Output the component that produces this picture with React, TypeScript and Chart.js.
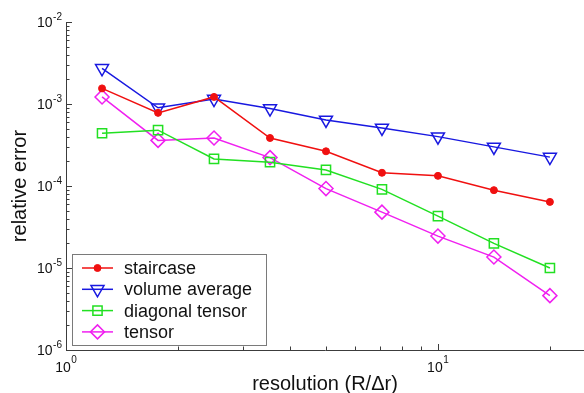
import React, { useEffect, useRef } from 'react';
import { Chart, registerables } from 'chart.js';

Chart.register(...registerables);

// ---- data ----
const resolution = [1.25, 1.768, 2.5, 3.536, 5, 7.071, 10, 14.14, 20];
const staircase = [1.55e-3, 7.8e-4, 1.22e-3, 3.85e-4, 2.65e-4, 1.45e-4, 1.33e-4, 8.9e-5, 6.4e-5];
const volumeAverage = [2.72e-3, 9.0e-4, 1.15e-3, 8.8e-4, 6.4e-4, 5.1e-4, 4.0e-4, 3.0e-4, 2.25e-4];
const diagonalTensor = [4.4e-4, 4.8e-4, 2.14e-4, 1.95e-4, 1.57e-4, 9.1e-5, 4.3e-5, 2.0e-5, 1.0e-5];
const tensor = [1.22e-3, 3.6e-4, 3.85e-4, 2.22e-4, 9.3e-5, 4.8e-5, 2.45e-5, 1.36e-5, 4.6e-6];
const seriesLabels = ['staircase', 'volume average', 'diagonal tensor', 'tensor'];
const xDecades = [1, 10];
const yDecades = [1e-6, 1e-5, 1e-4, 1e-3, 1e-2];
const xTickExponents = ['0', '1'];
const yTickExponents = ['-6', '-5', '-4', '-3', '-2'];
const xTitle = 'resolution (R/\u0394r)';
const yTitle = 'relative error';

const X_MIN = 1;
const X_MAX = 24.7;
const Y_MIN = 1e-6;
const Y_MAX = 1e-2;

const FONT = '"Liberation Sans", Arial, Helvetica, sans-serif';
const AXIS_COLOR = '#3c3c3c';
const TEXT_COLOR = '#111111';

function isDecade(v: number): boolean {
  const l = Math.log10(v);
  return Math.abs(l - Math.round(l)) < 1e-6;
}

function minorTicks(min: number, max: number): number[] {
  const out: number[] = [];
  const d0 = Math.floor(Math.log10(min));
  const d1 = Math.ceil(Math.log10(max));
  for (let d = d0; d <= d1; d++) {
    for (let m = 1; m <= 9; m++) {
      const v = m * Math.pow(10, d);
      if (v >= min * 0.999 && v <= max * 1.001) out.push(v);
    }
  }
  return out;
}

function drawMarker(ctx: CanvasRenderingContext2D, style: string, r: number, rotation: number,
  x: number, y: number, fill: string, stroke: string, lw: number) {
  ctx.save();
  ctx.beginPath();
  let rad = (rotation * Math.PI) / 180;
  if (style === 'circle') {
    ctx.arc(x, y, r, 0, Math.PI * 2);
  } else if (style === 'triangle') {
    ctx.moveTo(x + Math.sin(rad) * r, y - Math.cos(rad) * r);
    rad += (2 * Math.PI) / 3;
    ctx.lineTo(x + Math.sin(rad) * r, y - Math.cos(rad) * r);
    rad += (2 * Math.PI) / 3;
    ctx.lineTo(x + Math.sin(rad) * r, y - Math.cos(rad) * r);
    ctx.closePath();
  } else if (style === 'rect') {
    const s = Math.SQRT1_2 * r;
    ctx.rect(x - s, y - s, 2 * s, 2 * s);
  } else if (style === 'rectRot') {
    ctx.moveTo(x - r, y);
    ctx.lineTo(x, y - r);
    ctx.lineTo(x + r, y);
    ctx.lineTo(x, y + r);
    ctx.closePath();
  }
  ctx.fillStyle = fill;
  ctx.fill();
  ctx.lineWidth = lw;
  ctx.strokeStyle = stroke;
  ctx.stroke();
  ctx.restore();
}

const inwardTicks = {
  id: 'inwardTicks',
  afterDraw(chart: any) {
    const { ctx, chartArea, scales } = chart;
    const xs = scales.x;
    const ys = scales.y;
    ctx.save();
    ctx.strokeStyle = AXIS_COLOR;
    ctx.lineWidth = 1;
    ctx.beginPath();
    for (const v of minorTicks(X_MIN, X_MAX)) {
      const px = Math.round(xs.getPixelForValue(v)) + 0.5;
      const len = isDecade(v) ? 6 : 3.5;
      ctx.moveTo(px, chartArea.bottom);
      ctx.lineTo(px, chartArea.bottom - len);
    }
    for (const v of minorTicks(Y_MIN, Y_MAX)) {
      const py = Math.round(ys.getPixelForValue(v)) + 0.5;
      const len = isDecade(v) ? 6 : 3.5;
      ctx.moveTo(chartArea.left, py);
      ctx.lineTo(chartArea.left + len, py);
    }
    ctx.stroke();
    ctx.restore();
  },
};

// power-of-ten tick labels: "10" with a raised exponent
const powerLabels = {
  id: 'powerLabels',
  afterDraw(chart: any) {
    const { ctx, chartArea, scales } = chart;
    const base = `14px ${FONT}`;
    const sup = `10px ${FONT}`;
    ctx.save();
    ctx.fillStyle = TEXT_COLOR;
    ctx.textBaseline = 'alphabetic';
    ctx.textAlign = 'left';
    // y axis
    yDecades.forEach((v, i) => {
      const py = scales.y.getPixelForValue(v);
      const e = yTickExponents[i];
      ctx.font = sup;
      const ew = ctx.measureText(e).width;
      ctx.font = base;
      const bw = ctx.measureText('10').width;
      const right = chartArea.left - 4;
      const bx = right - ew - bw - 0.5;
      ctx.fillText('10', bx, py + 5);
      ctx.font = sup;
      ctx.fillText(e, bx + bw + 0.5, py - 2.5);
    });
    // x axis
    xDecades.forEach((v, i) => {
      const px = scales.x.getPixelForValue(v);
      const e = xTickExponents[i];
      ctx.font = sup;
      const ew = ctx.measureText(e).width;
      ctx.font = base;
      const bw = ctx.measureText('10').width;
      const bx = px - (bw + ew + 0.5) / 2;
      const baseY = chartArea.bottom + 22;
      ctx.fillText('10', bx, baseY);
      ctx.font = sup;
      ctx.fillText(e, bx + bw + 0.5, baseY - 9);
    });
    ctx.restore();
  },
};

const boxLegend = {
  id: 'boxLegend',
  afterDraw(chart: any) {
    const { ctx, chartArea } = chart;
    const left = chartArea.left + 6;
    const top = chartArea.bottom - 96;
    const w = 194;
    const h = 91;
    ctx.save();
    ctx.fillStyle = '#ffffff';
    ctx.fillRect(left, top, w, h);
    ctx.strokeStyle = '#7a7a7a';
    ctx.lineWidth = 1;
    ctx.strokeRect(left + 0.5, top + 0.5, w, h);
    const rowH = 21.3;
    chart.data.datasets.forEach((ds: any, i: number) => {
      const cy = top + 14 + i * rowH;
      ctx.beginPath();
      ctx.strokeStyle = ds.borderColor;
      ctx.lineWidth = ds.borderWidth;
      ctx.moveTo(left + 10, cy);
      ctx.lineTo(left + 41, cy);
      ctx.stroke();
      drawMarker(ctx, ds.pointStyle, ds.pointRadius, ds.pointRotation || 0, left + 25.5, cy,
        ds.pointBackgroundColor, ds.pointBorderColor, ds.pointBorderWidth);
      ctx.fillStyle = TEXT_COLOR;
      ctx.font = `18px ${FONT}`;
      ctx.textAlign = 'left';
      ctx.textBaseline = 'middle';
      ctx.fillText(ds.label, left + 52, cy + 1);
    });
    ctx.restore();
  },
};

const seriesValues = [staircase, volumeAverage, diagonalTensor, tensor];
const seriesColors = ['#f01010', '#1818e0', '#22e022', '#f020f0'];
const seriesStyles = ['circle', 'triangle', 'rect', 'rectRot'];
const seriesRadii = [3.5, 7.5, 6.5, 7];
const seriesRotation = [0, 180, 0, 0];

export default function App() {
  const ref = useRef<HTMLCanvasElement | null>(null);

  useEffect(() => {
    if (!ref.current) return;
    const datasets = seriesValues.map((vals, i) => ({
      label: seriesLabels[i],
      data: resolution.map((x, j) => ({ x, y: vals[j] })),
      borderColor: seriesColors[i],
      borderWidth: 1.5,
      pointStyle: seriesStyles[i],
      pointRadius: seriesRadii[i],
      pointRotation: seriesRotation[i],
      pointBackgroundColor: i === 0 ? seriesColors[i] : 'rgba(0,0,0,0)',
      pointBorderColor: seriesColors[i],
      pointBorderWidth: i === 0 ? 1 : 1.5,
      pointHoverRadius: seriesRadii[i],
      tension: 0,
      fill: false,
    }));
    const chart = new Chart(ref.current, {
      type: 'line',
      data: { datasets },
      plugins: [inwardTicks, powerLabels, boxLegend],
      options: {
        animation: false,
        responsive: false,
        devicePixelRatio: 1,
        layout: { autoPadding: false, padding: { top: 22, right: 0, left: 0, bottom: 0 } },
        plugins: { legend: { display: false }, tooltip: { enabled: false } },
        scales: {
          x: {
            type: 'logarithmic',
            min: X_MIN,
            max: X_MAX,
            grid: { display: false, drawTicks: false },
            border: { display: true, color: AXIS_COLOR, width: 1 },
            ticks: { display: false },
            title: {
              display: true,
              text: xTitle,
              color: TEXT_COLOR,
              font: { family: FONT, size: 20, lineHeight: 0.9 },
              padding: { top: 0, bottom: 0 },
            },
            afterFit: (s: any) => { s.height = 43; },
          },
          y: {
            type: 'logarithmic',
            min: Y_MIN,
            max: Y_MAX,
            grid: { display: false, drawTicks: false },
            border: { display: true, color: AXIS_COLOR, width: 1 },
            ticks: { display: false },
            title: {
              display: true,
              text: yTitle,
              color: TEXT_COLOR,
              font: { family: FONT, size: 20, lineHeight: 0.9 },
              padding: { top: 11, bottom: 0 },
            },
            afterFit: (s: any) => { s.width = 66; },
          },
        },
      } as any,
    });
    return () => chart.destroy();
  }, []);

  return (
    <div style={{ position: 'absolute', left: 0, top: 0, width: 584, height: 393, background: '#fff' }}>
      <canvas ref={ref} width={584} height={393} style={{ display: 'block' }} />
    </div>
  );
}
